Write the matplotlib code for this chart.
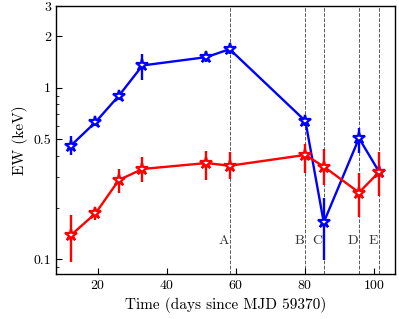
import matplotlib
matplotlib.use("Agg")
import matplotlib.pyplot as plt
from matplotlib.ticker import FixedLocator, NullFormatter, FixedFormatter

plt.rcParams['font.family'] = ['cmr10', 'DejaVu Serif']
plt.rcParams['axes.formatter.use_mathtext'] = True
plt.rcParams['mathtext.fontset'] = 'cm'

t = [12.3, 19.4, 26.2, 33.0, 51.5, 58.2, 80.1, 85.4, 95.6, 101.5]
blue = [0.46, 0.63, 0.90, 1.35, 1.51, 1.68, 0.64, 0.164, 0.508, 0.321]
blue_lo = [0.055, 0.03, 0.05, 0.24, 0.10, 0.10, 0.04, 0.065, 0.09, 0.02]
blue_hi = [0.06, 0.03, 0.05, 0.23, 0.10, 0.10, 0.04, 0.065, 0.075, 0.02]
red = [0.138, 0.185, 0.29, 0.336, 0.364, 0.351, 0.406, 0.347, 0.245, 0.324]
red_lo = [0.042, 0.016, 0.045, 0.054, 0.074, 0.057, 0.086, 0.076, 0.069, 0.091]
red_hi = [0.043, 0.015, 0.045, 0.059, 0.066, 0.069, 0.064, 0.093, 0.075, 0.10]
lines_x = [58.2, 80.1, 85.4, 95.6, 101.5]
lines_lab = ['A', 'B', 'C', 'D', 'E']
yticks = [0.1, 0.5, 1, 2, 3]
ytick_labels = ['0.1', '0.5', '1', '2', '3']

fig = plt.figure(figsize=(3.99, 3.19), dpi=100)
ax = fig.add_axes([56/399, 1-274/319, (395-56)/399, (274-6)/319])

for x, lab in zip(lines_x, lines_lab):
    ax.axvline(x, color='0.35', ls='--', lw=0.7, zorder=1)
    ax.text(x - 0.3, 0.127, lab, ha='right', va='center', fontsize=10, color='0.2')

ax.errorbar(t, blue, yerr=[blue_lo, blue_hi], color='blue', lw=1.7, elinewidth=1.7,
            marker='*', ms=9, mfc='white', mec='blue', mew=1.6, zorder=3)
ax.errorbar(t, red, yerr=[red_lo, red_hi], color='red', lw=1.7, elinewidth=1.7,
            marker='*', ms=9, mfc='white', mec='red', mew=1.6, zorder=3)

ax.set_yscale('log')
ax.set_xlim(8, 106)
ax.set_ylim(0.082, 3)
ax.yaxis.set_major_locator(FixedLocator(yticks))
ax.yaxis.set_major_formatter(FixedFormatter(ytick_labels))
ax.yaxis.set_minor_locator(FixedLocator([0.09, 0.2, 0.3, 0.4, 0.6, 0.7, 0.8, 0.9]))
ax.yaxis.set_minor_formatter(NullFormatter())
ax.set_xticks([20, 40, 60, 80, 100])
ax.tick_params(direction='in', which='both', labelsize=10)
ax.tick_params(which='major', length=4)
ax.tick_params(which='minor', length=2.5)
for s in ax.spines.values():
    s.set_linewidth(1.0)
ax.set_xlabel('Time (days since MJD 59370)', fontsize=11)
ax.set_ylabel('EW (keV)', fontsize=11)

fig.savefig('out.png', dpi=100)
